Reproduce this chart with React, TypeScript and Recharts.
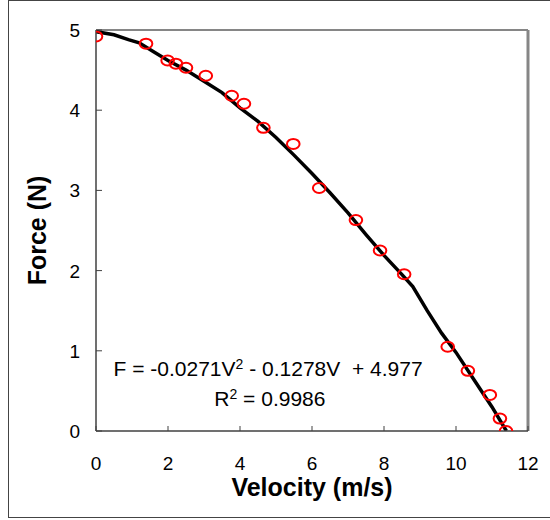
import React from "react";
import {
  ComposedChart,
  Line,
  Scatter,
  XAxis,
  YAxis,
  ReferenceLine,
  ReferenceDot,
} from "recharts";

const velocity = [0, 1.39, 1.99, 2.22, 2.5, 3.05, 3.77, 4.11, 4.65, 5.48, 6.2, 7.22, 7.89, 8.56, 9.77, 10.33, 10.94, 11.22, 11.39];
const force = [4.92, 4.83, 4.62, 4.58, 4.53, 4.43, 4.18, 4.08, 3.78, 3.58, 3.03, 2.63, 2.25, 1.955, 1.05, 0.75, 0.45, 0.155, 0.0];

const fitVelocity = [0, 0.5, 0.9, 1.2, 1.6, 2.0, 2.5, 3.0, 3.5, 4.0, 4.5, 5.0, 5.5, 6.0, 6.5, 7.0, 7.5, 8.0, 8.5, 8.8, 9.2, 9.6, 10.0, 10.5, 11.0, 11.4];
const fitForce = [4.98, 4.94, 4.88, 4.84, 4.73, 4.62, 4.5, 4.36, 4.22, 4.03, 3.86, 3.66, 3.44, 3.21, 2.97, 2.72, 2.45, 2.19, 1.95, 1.8, 1.5, 1.22, 0.98, 0.64, 0.3, 0.0];

const xTicks = [0, 2, 4, 6, 8, 10, 12];
const yTicks = [0, 1, 2, 3, 4, 5];

// [text before superscript, superscript, text after superscript]
const equationParts = ["F = -0.0271V", "2", " - 0.1278V  + 4.977"];
const r2Parts = ["R", "2", " = 0.9986"];

const scatterData = velocity.map((v, i) => ({ v, f: force[i] }));
const lineData = fitVelocity.map((v, i) => ({ v, f: fitForce[i] }));

const FONT = "'Liberation Sans', Arial, sans-serif";
const AXIS_COLOR = "#404040";
const FRAME_COLOR = "#868686";

const YTick = (props: any) => {
  const { x, y, payload } = props;
  return (
    <g>
      <line x1={x + 16} x2={x + 22} y1={y} y2={y} stroke={AXIS_COLOR} strokeWidth={1} />
      <text x={x} y={y} dy={7} textAnchor="end" fontFamily={FONT} fontSize={19} fill="#000">
        {payload.value}
      </text>
    </g>
  );
};

const XTick = (props: any) => {
  const { x, y, payload } = props;
  return (
    <g>
      <line x1={x} x2={x} y1={y - 16} y2={y - 21} stroke={AXIS_COLOR} strokeWidth={1} />
      <text x={x} y={y + 23} textAnchor="middle" fontFamily={FONT} fontSize={19} fill="#000">
        {payload.value}
      </text>
    </g>
  );
};

const Ellipse = (props: any) => {
  const { cx, cy } = props;
  if (cx == null || cy == null) return null;
  return <ellipse cx={cx} cy={cy} rx={6.3} ry={5} fill="none" stroke="#ff0000" strokeWidth={2} />;
};

const makeTextLabel = (parts: string[]) => (props: any) => {
  const vb = props.viewBox || {};
  const cx = (vb.x ?? 0) + (vb.width ?? 0) / 2;
  const cy = (vb.y ?? 0) + (vb.height ?? 0) / 2;
  return (
    <text x={cx} y={cy} textAnchor="middle" fontFamily={FONT} fontSize={21} fill="#000" xmlSpace="preserve" style={{ whiteSpace: "pre" }}>
      <tspan>{parts[0]}</tspan>
      <tspan fontSize={14} dy={-7}>{parts[1]}</tspan>
      <tspan dy={7}>{parts[2]}</tspan>
    </text>
  );
};

const XTitle = (props: any) => {
  const vb = props.viewBox || {};
  return (
    <text
      x={vb.x + vb.width / 2}
      y={vb.y + 65}
      textAnchor="middle"
      fontFamily={FONT}
      fontSize={25}
      fontWeight="bold"
      fill="#000"
    >
      Velocity (m/s)
    </text>
  );
};

const YTitle = (props: any) => {
  const vb = props.viewBox || {};
  const x = vb.x + 46;
  const y = vb.y + vb.height / 2;
  return (
    <text
      x={x}
      y={y}
      transform={`rotate(-90, ${x}, ${y})`}
      textAnchor="middle"
      fontFamily={FONT}
      fontSize={25}
      fontWeight="bold"
      fill="#000"
    >
      Force (N)
    </text>
  );
};

export default function App() {
  return (
    <div style={{ position: "absolute", left: 0, top: 0, width: 550, height: 520, background: "#fff" }}>
      <div
        style={{
          position: "absolute",
          left: 8,
          top: 0,
          width: 600,
          height: 518,
          borderLeft: "1px solid #444",
          borderTop: "1px solid #444",
          borderBottom: "1px solid #444",
          boxSizing: "border-box",
        }}
      />
      <div style={{ position: "absolute", left: 0, top: 0 }}>
        <ComposedChart width={550} height={520} margin={{ top: 30, right: 22, bottom: 0, left: 0 }}>
          <XAxis
            dataKey="v"
            type="number"
            domain={[0, 12]}
            ticks={xTicks}
            allowDataOverflow
            height={89}
            tickSize={0}
            tickMargin={16}
            tick={<XTick />}
            axisLine={{ stroke: AXIS_COLOR, strokeWidth: 1.5 }}
            label={<XTitle />}
          />
          <YAxis
            dataKey="f"
            type="number"
            domain={[0, 5]}
            ticks={yTicks}
            allowDataOverflow
            width={96}
            tickSize={0}
            tickMargin={16}
            tick={<YTick />}
            axisLine={{ stroke: AXIS_COLOR, strokeWidth: 1.5 }}
            label={<YTitle />}
          />
          <ReferenceLine y={5} stroke={FRAME_COLOR} strokeWidth={2} />
          <ReferenceLine x={12} stroke={FRAME_COLOR} strokeWidth={3} />
          <Scatter data={scatterData} dataKey="f" shape={<Ellipse />} isAnimationActive={false} />
          <Line
            data={lineData}
            dataKey="f"
            type="linear"
            stroke="#000"
            strokeWidth={3.5}
            dot={false}
            activeDot={false}
            isAnimationActive={false}
          />
          <ReferenceDot
            x={4.78}
            y={0.69}
            r={0}
            fill="none"
            stroke="none"
            ifOverflow="visible"
            label={makeTextLabel(equationParts)}
          />
          <ReferenceDot
            x={4.83}
            y={0.31}
            r={0}
            fill="none"
            stroke="none"
            ifOverflow="visible"
            label={makeTextLabel(r2Parts)}
          />
        </ComposedChart>
      </div>
    </div>
  );
}
